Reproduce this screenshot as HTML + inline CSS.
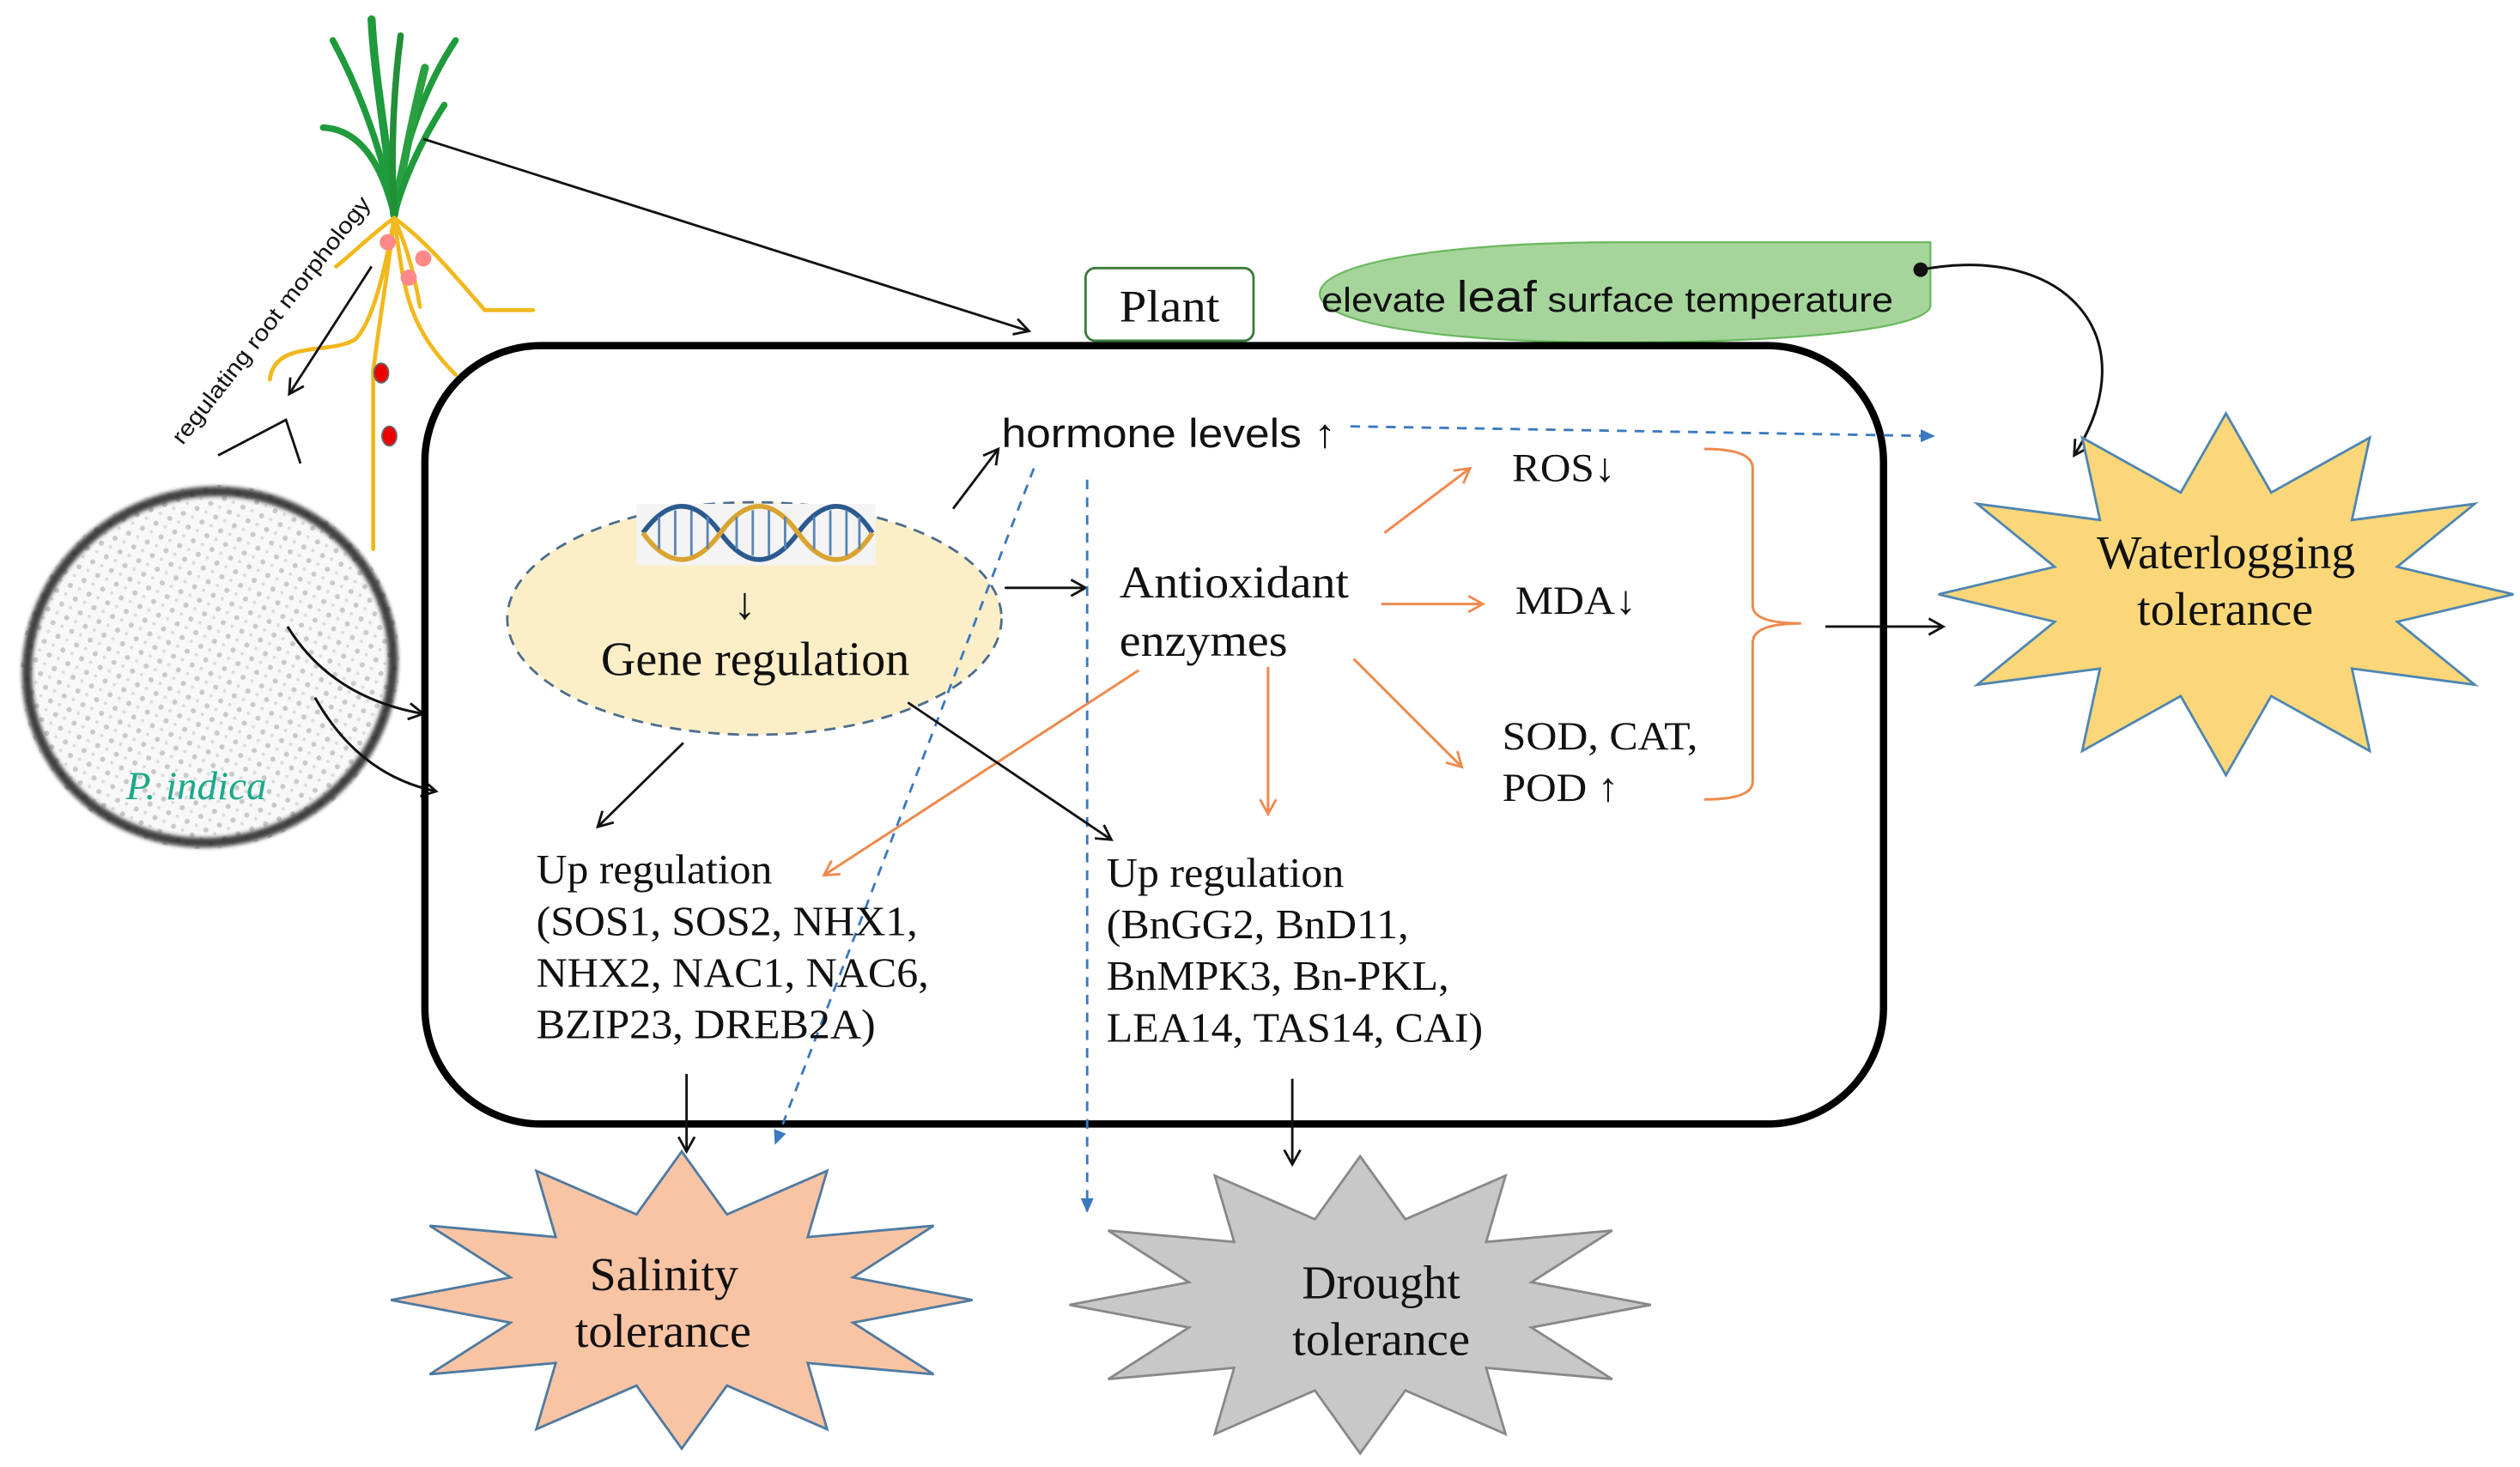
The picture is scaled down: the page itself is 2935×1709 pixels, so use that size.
<!DOCTYPE html>
<html><head><meta charset="utf-8"><style>
html,body{margin:0;padding:0;background:#fff;}
svg{display:block;}
.s{font-family:"Liberation Serif",serif;fill:#111;}
.a{font-family:"Liberation Sans",sans-serif;fill:#111;}
</style></head><body>
<svg width="2935" height="1709" viewBox="0 0 1560 908.4" xmlns="http://www.w3.org/2000/svg">
<defs>
<marker id="ab" markerWidth="12" markerHeight="12" refX="10" refY="6" orient="auto" markerUnits="userSpaceOnUse"><path d="M1,1 L10,6 L1,11" fill="none" stroke="#111" stroke-width="1.5"/></marker>
<marker id="ao" markerWidth="12" markerHeight="12" refX="10" refY="6" orient="auto" markerUnits="userSpaceOnUse"><path d="M1,1 L10,6 L1,11" fill="none" stroke="#ee8a4e" stroke-width="1.5"/></marker>
<marker id="ablue" markerWidth="10" markerHeight="10" refX="8" refY="5" orient="auto" markerUnits="userSpaceOnUse"><path d="M0,1 L9,5 L0,9 z" fill="#3a78c0"/></marker>
<pattern id="dots" width="9" height="9" patternUnits="userSpaceOnUse"><circle cx="3" cy="3" r="1.6" fill="#b5b5b5"/><circle cx="7.5" cy="7" r="1.1" fill="#d0d0d0"/></pattern>
<filter id="bl" x="-20%" y="-20%" width="140%" height="140%"><feGaussianBlur stdDeviation="1.3"/></filter>
</defs>

<!-- P. indica spore -->
<g transform="rotate(-20 130 413)">
<ellipse cx="130" cy="413" rx="118" ry="112" fill="#f8f8f8"/>
<ellipse cx="130" cy="413" rx="118" ry="112" fill="url(#dots)" opacity="0.7"/>
<ellipse cx="130" cy="413" rx="114" ry="108" fill="none" stroke="#222" stroke-width="6" opacity="0.85" filter="url(#bl)"/>
</g>
<text x="78" y="495" font-family="Liberation Serif,serif" font-style="italic" font-size="25" fill="#1aa88a">P. indica</text>
<path d="M178,388 Q205,432 262,442" fill="none" stroke="#111" stroke-width="1.6" marker-end="url(#ab)"/>
<path d="M195,432 Q222,480 270,490" fill="none" stroke="#111" stroke-width="1.6" marker-end="url(#ab)"/>

<!-- plant -->
<g fill="none" stroke-linecap="round">
<path d="M244,133 C240,90 232,50 230,12" stroke="#1f9a3c" stroke-width="5"/>
<path d="M244,133 C238,100 225,60 206,25" stroke="#1f9a3c" stroke-width="4"/>
<path d="M244,133 C248,95 262,55 282,25" stroke="#1f9a3c" stroke-width="4"/>
<path d="M244,133 C250,100 256,70 263,42" stroke="#2aa040" stroke-width="5"/>
<path d="M244,133 C236,100 222,80 200,79" stroke="#1f9a3c" stroke-width="4"/>
<path d="M244,133 C250,110 262,85 275,65" stroke="#1f9a3c" stroke-width="4"/>
<path d="M244,133 C242,100 243,60 248,22" stroke="#238f38" stroke-width="4"/>
<g stroke="#f2b81c" stroke-width="2.5">
<path d="M244,135 C240,170 236,190 231,230 L231,340"/>
<path d="M244,135 C250,175 250,200 282,232"/>
<path d="M244,135 C238,170 230,200 220,210 C205,220 170,210 167,235"/>
<path d="M244,135 C265,150 285,175 300,192 L330,192"/>
<path d="M244,135 C230,145 215,160 208,165"/>
<path d="M244,135 C255,160 258,180 260,190"/>
</g>
</g>
<circle cx="240" cy="150" r="5" fill="#f88"/><circle cx="262" cy="160" r="5" fill="#f88"/><circle cx="253" cy="172" r="5" fill="#f88"/>
<ellipse cx="236" cy="231" rx="4.5" ry="6" fill="#e00" stroke="#666"/><ellipse cx="241" cy="270" rx="4.5" ry="6" fill="#e00" stroke="#666"/>
<text class="a" font-size="14" transform="translate(113,276) rotate(-52)" textLength="190" lengthAdjust="spacingAndGlyphs">regulating root morphology</text>
<line x1="230" y1="165" x2="179" y2="244" stroke="#111" stroke-width="1.5" marker-end="url(#ab)"/>
<path d="M135,282 L177,260 L186,287" fill="none" stroke="#111" stroke-width="1.5"/>
<line x1="262" y1="86" x2="637" y2="205" stroke="#111" stroke-width="1.5" marker-end="url(#ab)"/>

<!-- plant box -->
<rect x="672" y="166" width="104" height="45" rx="6" fill="#fff" stroke="#3a7a3a" stroke-width="1.5"/>
<text class="s" x="724" y="199" font-size="28" text-anchor="middle" textLength="62" lengthAdjust="spacingAndGlyphs">Plant</text>

<!-- green leaf -->
<path d="M1195,150 L1195,190 C1190,205 1100,212 1000,212 C890,212 817,200 817,182 C817,162 900,150 1000,150 Z" fill="#a6d59c" stroke="#6ab85e" stroke-width="1.2"/>
<text class="a" x="818" y="193" font-size="21" textLength="354" lengthAdjust="spacingAndGlyphs">elevate <tspan font-size="27">leaf</tspan> surface temperature</text>
<circle cx="1189" cy="167" r="4.5" fill="#111"/>
<path d="M1189,167 C1280,150 1330,210 1284,282" fill="none" stroke="#111" stroke-width="1.6" marker-end="url(#ab)"/>

<!-- main box -->
<rect x="263" y="214" width="903" height="482" rx="72" fill="none" stroke="#000" stroke-width="4.5"/>

<!-- gene ellipse -->
<ellipse cx="467" cy="383" rx="153" ry="72" fill="#fcefc8" stroke="#4d6d8d" stroke-width="1.5" stroke-dasharray="7,5"/>
<rect x="394" y="312" width="148" height="38" fill="#f4f4f4"/>
<g fill="none" stroke-width="3">
<path d="M398,330 C414,308 430,308 446,330 C462,352 478,352 494,330 C510,308 526,308 540,330" stroke="#2b5a8e"/>
<path d="M398,330 C414,352 430,352 446,330 C462,308 478,308 494,330 C510,352 526,352 540,330" stroke="#d9a431"/>
<g stroke="#5b86b6" stroke-width="1.5"><path d="M408,320V340M418,316V344M428,316V344M438,320V340M456,320V340M466,316V344M476,316V344M486,320V340M504,320V340M514,316V344M524,316V344M532,320V340"/></g>
</g>
<text class="s" x="461" y="383" font-size="28" text-anchor="middle">↓</text>
<text class="s" x="372" y="418" font-size="30" textLength="191" lengthAdjust="spacingAndGlyphs">Gene regulation</text>

<!-- hormone -->
<text class="a" x="620" y="277" font-size="25" textLength="207" lengthAdjust="spacingAndGlyphs">hormone levels ↑</text>
<line x1="590" y1="315" x2="618" y2="278" stroke="#111" stroke-width="1.5" marker-end="url(#ab)"/>
<line x1="622" y1="364" x2="672" y2="364" stroke="#111" stroke-width="1.5" marker-end="url(#ab)"/>
<text class="s" x="693" y="370" font-size="28" textLength="142" lengthAdjust="spacingAndGlyphs">Antioxidant</text>
<text class="s" x="693" y="406" font-size="28" textLength="104" lengthAdjust="spacingAndGlyphs">enzymes</text>

<!-- orange arrows -->
<g stroke="#ee8a4e" stroke-width="1.6" fill="none">
<line x1="857" y1="330" x2="910" y2="290" marker-end="url(#ao)"/>
<line x1="855" y1="374" x2="918" y2="374" marker-end="url(#ao)"/>
<line x1="838" y1="408" x2="905" y2="475" marker-end="url(#ao)"/>
<line x1="785" y1="413" x2="785" y2="504" marker-end="url(#ao)"/>
<line x1="705" y1="415" x2="510" y2="542" marker-end="url(#ao)"/>
<path d="M1055,278 Q1085,278 1085,290 L1085,375 Q1085,386 1115,386 Q1085,386 1085,398 L1085,484 Q1085,495 1055,495"/>
</g>
<text class="s" x="936" y="298" font-size="25" textLength="64" lengthAdjust="spacingAndGlyphs">ROS↓</text>
<text class="s" x="938" y="380" font-size="25" textLength="75" lengthAdjust="spacingAndGlyphs">MDA↓</text>
<text class="s" x="930" y="464" font-size="25" textLength="121" lengthAdjust="spacingAndGlyphs">SOD, CAT,</text>
<text class="s" x="930" y="496" font-size="25" textLength="72" lengthAdjust="spacingAndGlyphs">POD ↑</text>
<line x1="1130" y1="388" x2="1203" y2="388" stroke="#111" stroke-width="1.5" marker-end="url(#ab)"/>

<!-- blue dashed -->
<g stroke="#3a78c0" stroke-width="1.5" stroke-dasharray="6,5" fill="none">
<line x1="836" y1="264" x2="1197" y2="270" marker-end="url(#ablue)"/>
<line x1="640" y1="290" x2="480" y2="708" marker-end="url(#ablue)"/>
<line x1="673" y1="297" x2="673" y2="750" marker-end="url(#ablue)"/>
</g>

<!-- black arrows -->
<g stroke="#111" stroke-width="1.5">
<line x1="423" y1="460" x2="370" y2="512" marker-end="url(#ab)"/>
<line x1="562" y1="435" x2="688" y2="520" marker-end="url(#ab)"/>
<line x1="425" y1="665" x2="425" y2="713" marker-end="url(#ab)"/>
<line x1="800" y1="668" x2="800" y2="721" marker-end="url(#ab)"/>
</g>

<g class="s" font-size="26">
<text x="332" y="547" textLength="146" lengthAdjust="spacingAndGlyphs">Up regulation</text>
<text x="332" y="579" textLength="236" lengthAdjust="spacingAndGlyphs">(SOS1, SOS2, NHX1,</text>
<text x="332" y="611" textLength="243" lengthAdjust="spacingAndGlyphs">NHX2, NAC1, NAC6,</text>
<text x="332" y="643" textLength="210" lengthAdjust="spacingAndGlyphs">BZIP23, DREB2A)</text>
<text x="685" y="549" textLength="147" lengthAdjust="spacingAndGlyphs">Up regulation</text>
<text x="685" y="581" textLength="187" lengthAdjust="spacingAndGlyphs">(BnGG2, BnD11,</text>
<text x="685" y="613" textLength="212" lengthAdjust="spacingAndGlyphs">BnMPK3, Bn-PKL,</text>
<text x="685" y="645" textLength="233" lengthAdjust="spacingAndGlyphs">LEA14, TAS14, CAI)</text>
</g>

<!-- stars -->
<polygon points="1556,368 1484,385 1532,424 1456,414 1467,465 1406,431 1378,480 1350,431 1289,465 1300,414 1224,424 1272,385 1200,368 1272,351 1224,312 1300,322 1289,271 1350,305 1378,256 1406,305 1467,271 1456,322 1532,312 1484,351" fill="#fbd77a" stroke="#4f86b0" stroke-width="1.5"/>
<text class="s" x="1298" y="352" font-size="29" textLength="160" lengthAdjust="spacingAndGlyphs">Waterlogging</text>
<text class="s" x="1323" y="387" font-size="29" textLength="109" lengthAdjust="spacingAndGlyphs">tolerance</text>

<polygon points="602,805 528,819 578,851 500,844 512,885 450,858 422,897 394,858 332,885 344,844 266,851 316,819 242,805 316,791 266,759 344,766 332,725 394,752 422,713 450,752 512,725 500,766 578,759 528,791" fill="#f9c4a4" stroke="#4f7aa0" stroke-width="1.5"/>
<text class="s" x="365" y="799" font-size="29" textLength="92" lengthAdjust="spacingAndGlyphs">Salinity</text>
<text class="s" x="356" y="834" font-size="29" textLength="109" lengthAdjust="spacingAndGlyphs">tolerance</text>

<polygon transform="translate(420,3)" points="602,805 528,819 578,851 500,844 512,885 450,858 422,897 394,858 332,885 344,844 266,851 316,819 242,805 316,791 266,759 344,766 332,725 394,752 422,713 450,752 512,725 500,766 578,759 528,791" fill="#c8c8c8" stroke="#888" stroke-width="1.5"/>
<text class="s" x="806" y="804" font-size="29" textLength="98" lengthAdjust="spacingAndGlyphs">Drought</text>
<text class="s" x="800" y="839" font-size="29" textLength="110" lengthAdjust="spacingAndGlyphs">tolerance</text>
</svg>
</body></html>
